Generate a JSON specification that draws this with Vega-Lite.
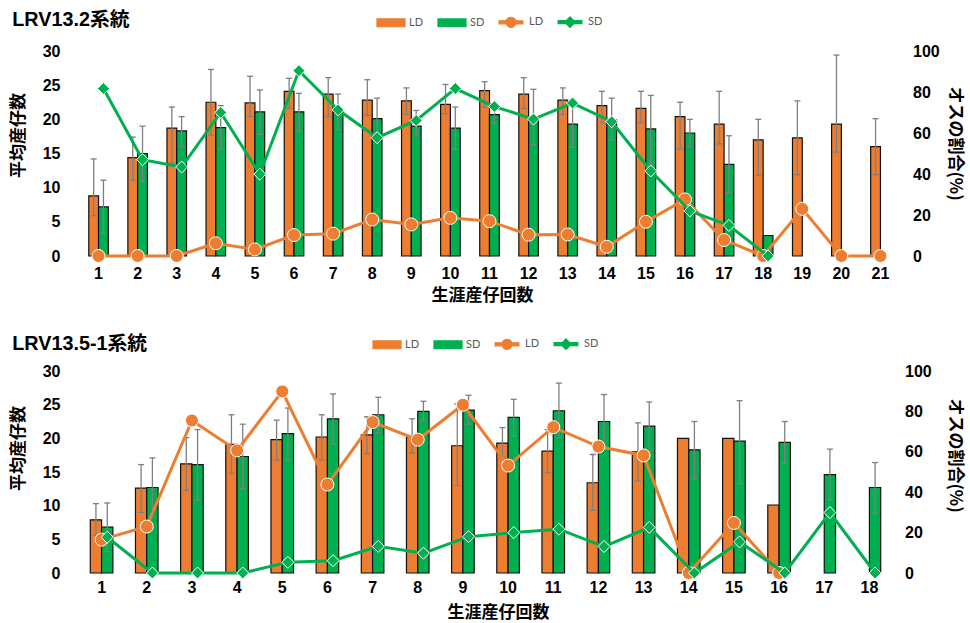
{
  "$schema": "https://vega.github.io/schema/vega-lite/v6.json",
  "background": "white",
  "padding": {"left": 9, "top": 7, "right": 5, "bottom": 4.5},
  "autosize": {"type": "pad"},
  "config": {
    "view": {"stroke": null},
    "axis": {"grid": false, "domain": false, "ticks": false, "tickSize": 0, "labelOverlap": false, "labelFont": "Liberation Sans", "labelFontSize": 16, "labelFontWeight": "bold", "labelColor": "#000", "titleFont": "Noto Sans CJK JP", "titleFontSize": 17, "titleFontWeight": "bold", "titleColor": "#000"},
    "legend": {"layout": {"top": {"anchor": "middle", "direction": "horizontal"}}},
    "title": {"font": "Liberation Sans, 'Noto Sans CJK JP'", "fontSize": 19.8, "fontWeight": "bold", "color": "#000", "anchor": "start", "dx": 3}
  },
  "datasets": {
    "top_bars": [
      {"n": 1, "grp": "LD", "mean": 8.8, "lo": 5.9, "hi": 14.2},
      {"n": 2, "grp": "LD", "mean": 14.4, "lo": 11.1, "hi": 17.4},
      {"n": 3, "grp": "LD", "mean": 18.7, "lo": 13.6, "hi": 21.8},
      {"n": 4, "grp": "LD", "mean": 22.5, "lo": 17.7, "hi": 27.3},
      {"n": 5, "grp": "LD", "mean": 22.4, "lo": 20.4, "hi": 26.3},
      {"n": 6, "grp": "LD", "mean": 24.1, "lo": 21.6, "hi": 26.0},
      {"n": 7, "grp": "LD", "mean": 23.7, "lo": 20.4, "hi": 26.1},
      {"n": 8, "grp": "LD", "mean": 22.8, "lo": 20.6, "hi": 25.8},
      {"n": 9, "grp": "LD", "mean": 22.7, "lo": 20.7, "hi": 24.6},
      {"n": 10, "grp": "LD", "mean": 22.2, "lo": 20.8, "hi": 25.1},
      {"n": 11, "grp": "LD", "mean": 24.2, "lo": 21.8, "hi": 25.5},
      {"n": 12, "grp": "LD", "mean": 23.7, "lo": 21.6, "hi": 26.1},
      {"n": 13, "grp": "LD", "mean": 22.8, "lo": 20.7, "hi": 24.6},
      {"n": 14, "grp": "LD", "mean": 22.0, "lo": 19.5, "hi": 24.1},
      {"n": 15, "grp": "LD", "mean": 21.6, "lo": 19.5, "hi": 24.1},
      {"n": 16, "grp": "LD", "mean": 20.4, "lo": 15.7, "hi": 22.5},
      {"n": 17, "grp": "LD", "mean": 19.3, "lo": 16.4, "hi": 24.1},
      {"n": 18, "grp": "LD", "mean": 17.0, "lo": 11.8, "hi": 20.0},
      {"n": 19, "grp": "LD", "mean": 17.3, "lo": 11.9, "hi": 22.7},
      {"n": 20, "grp": "LD", "mean": 19.3, "lo": 15.2, "hi": 29.4},
      {"n": 21, "grp": "LD", "mean": 16.0, "lo": 11.9, "hi": 20.1},
      {"n": 1, "grp": "SD", "mean": 7.2, "lo": 3.3, "hi": 11.1},
      {"n": 2, "grp": "SD", "mean": 15.0, "lo": 10.9, "hi": 19.0},
      {"n": 3, "grp": "SD", "mean": 18.3, "lo": 16.0, "hi": 20.4},
      {"n": 4, "grp": "SD", "mean": 18.8, "lo": 15.6, "hi": 22.0},
      {"n": 5, "grp": "SD", "mean": 21.1, "lo": 17.8, "hi": 24.3},
      {"n": 6, "grp": "SD", "mean": 21.1, "lo": 18.3, "hi": 23.8},
      {"n": 7, "grp": "SD", "mean": 21.1, "lo": 18.5, "hi": 23.7},
      {"n": 8, "grp": "SD", "mean": 20.1, "lo": 17.0, "hi": 23.1},
      {"n": 9, "grp": "SD", "mean": 19.0, "lo": 17.8, "hi": 21.3},
      {"n": 10, "grp": "SD", "mean": 18.7, "lo": 15.6, "hi": 21.8},
      {"n": 11, "grp": "SD", "mean": 20.7, "lo": 19.4, "hi": 21.8},
      {"n": 12, "grp": "SD", "mean": 20.2, "lo": 16.3, "hi": 24.4},
      {"n": 13, "grp": "SD", "mean": 19.3, "lo": 15.9, "hi": 22.8},
      {"n": 14, "grp": "SD", "mean": 19.9, "lo": 17.0, "hi": 23.1},
      {"n": 15, "grp": "SD", "mean": 18.6, "lo": 13.5, "hi": 23.5},
      {"n": 16, "grp": "SD", "mean": 18.0, "lo": 16.0, "hi": 20.0},
      {"n": 17, "grp": "SD", "mean": 13.4, "lo": 9.3, "hi": 17.6},
      {"n": 18, "grp": "SD", "mean": 3.0, "lo": null, "hi": null}
    ],
    "top_lines": [
      {"n": 1, "grp": "LD線", "pct": 0}, {"n": 2, "grp": "LD線", "pct": 0}, {"n": 3, "grp": "LD線", "pct": 0},
      {"n": 4, "grp": "LD線", "pct": 6.2}, {"n": 5, "grp": "LD線", "pct": 3.2}, {"n": 6, "grp": "LD線", "pct": 10.2},
      {"n": 7, "grp": "LD線", "pct": 10.9}, {"n": 8, "grp": "LD線", "pct": 17.8}, {"n": 9, "grp": "LD線", "pct": 15.4},
      {"n": 10, "grp": "LD線", "pct": 18.6}, {"n": 11, "grp": "LD線", "pct": 17.0}, {"n": 12, "grp": "LD線", "pct": 10.4},
      {"n": 13, "grp": "LD線", "pct": 10.5}, {"n": 14, "grp": "LD線", "pct": 4.5}, {"n": 15, "grp": "LD線", "pct": 16.7},
      {"n": 16, "grp": "LD線", "pct": 27.6}, {"n": 17, "grp": "LD線", "pct": 7.8}, {"n": 18, "grp": "LD線", "pct": 0},
      {"n": 19, "grp": "LD線", "pct": 23.0}, {"n": 20, "grp": "LD線", "pct": 0}, {"n": 21, "grp": "LD線", "pct": 0},
      {"n": 1, "grp": "SD線", "pct": 81.7}, {"n": 2, "grp": "SD線", "pct": 47.0}, {"n": 3, "grp": "SD線", "pct": 43.4},
      {"n": 4, "grp": "SD線", "pct": 70.0}, {"n": 5, "grp": "SD線", "pct": 39.9}, {"n": 6, "grp": "SD線", "pct": 90.4},
      {"n": 7, "grp": "SD線", "pct": 71.3}, {"n": 8, "grp": "SD線", "pct": 57.7}, {"n": 9, "grp": "SD線", "pct": 66.1},
      {"n": 10, "grp": "SD線", "pct": 81.7}, {"n": 11, "grp": "SD線", "pct": 72.9}, {"n": 12, "grp": "SD線", "pct": 66.8},
      {"n": 13, "grp": "SD線", "pct": 74.6}, {"n": 14, "grp": "SD線", "pct": 65.5}, {"n": 15, "grp": "SD線", "pct": 41.5},
      {"n": 16, "grp": "SD線", "pct": 22.0}, {"n": 17, "grp": "SD線", "pct": 14.9}, {"n": 18, "grp": "SD線", "pct": 0}
    ],
    "bot_bars": [
      {"n": 1, "grp": "LD", "mean": 7.9, "lo": 5.6, "hi": 10.3},
      {"n": 2, "grp": "LD", "mean": 12.6, "lo": 9.0, "hi": 16.1},
      {"n": 3, "grp": "LD", "mean": 16.2, "lo": 12.3, "hi": 20.1},
      {"n": 4, "grp": "LD", "mean": 19.1, "lo": 14.8, "hi": 23.5},
      {"n": 5, "grp": "LD", "mean": 19.8, "lo": 16.8, "hi": 22.7},
      {"n": 6, "grp": "LD", "mean": 20.2, "lo": 16.8, "hi": 23.5},
      {"n": 7, "grp": "LD", "mean": 20.5, "lo": 17.7, "hi": 23.2},
      {"n": 8, "grp": "LD", "mean": 20.2, "lo": 17.8, "hi": 22.9},
      {"n": 9, "grp": "LD", "mean": 18.9, "lo": 13.0, "hi": 25.1},
      {"n": 10, "grp": "LD", "mean": 19.3, "lo": 17.2, "hi": 21.6},
      {"n": 11, "grp": "LD", "mean": 18.1, "lo": 14.9, "hi": 21.3},
      {"n": 12, "grp": "LD", "mean": 13.4, "lo": 9.3, "hi": 17.6},
      {"n": 13, "grp": "LD", "mean": 18.0, "lo": 13.7, "hi": 22.3},
      {"n": 14, "grp": "LD", "mean": 20.0, "lo": null, "hi": null},
      {"n": 15, "grp": "LD", "mean": 20.0, "lo": null, "hi": null},
      {"n": 16, "grp": "LD", "mean": 10.1, "lo": null, "hi": null},
      {"n": 1, "grp": "SD", "mean": 6.8, "lo": 3.2, "hi": 10.4},
      {"n": 2, "grp": "SD", "mean": 12.7, "lo": 8.3, "hi": 17.1},
      {"n": 3, "grp": "SD", "mean": 16.1, "lo": 10.8, "hi": 21.3},
      {"n": 4, "grp": "SD", "mean": 17.3, "lo": 12.5, "hi": 22.1},
      {"n": 5, "grp": "SD", "mean": 20.7, "lo": 16.8, "hi": 24.5},
      {"n": 6, "grp": "SD", "mean": 22.9, "lo": 19.2, "hi": 26.6},
      {"n": 7, "grp": "SD", "mean": 23.5, "lo": 20.8, "hi": 26.1},
      {"n": 8, "grp": "SD", "mean": 24.0, "lo": 22.6, "hi": 25.5},
      {"n": 9, "grp": "SD", "mean": 24.2, "lo": 22.1, "hi": 26.4},
      {"n": 10, "grp": "SD", "mean": 23.1, "lo": 20.4, "hi": 25.8},
      {"n": 11, "grp": "SD", "mean": 24.1, "lo": 20.1, "hi": 28.2},
      {"n": 12, "grp": "SD", "mean": 22.5, "lo": 18.4, "hi": 26.5},
      {"n": 13, "grp": "SD", "mean": 21.8, "lo": 18.1, "hi": 25.4},
      {"n": 14, "grp": "SD", "mean": 18.3, "lo": 14.0, "hi": 22.5},
      {"n": 15, "grp": "SD", "mean": 19.6, "lo": 13.3, "hi": 25.6},
      {"n": 16, "grp": "SD", "mean": 19.4, "lo": 16.3, "hi": 22.5},
      {"n": 17, "grp": "SD", "mean": 14.6, "lo": 10.9, "hi": 18.4},
      {"n": 18, "grp": "SD", "mean": 12.7, "lo": 8.9, "hi": 16.4}
    ],
    "bot_lines": [
      {"n": 1, "grp": "LD線", "pct": 16.5}, {"n": 2, "grp": "LD線", "pct": 23.0}, {"n": 3, "grp": "LD線", "pct": 75.5},
      {"n": 4, "grp": "LD線", "pct": 60.7}, {"n": 5, "grp": "LD線", "pct": 89.9}, {"n": 6, "grp": "LD線", "pct": 43.8},
      {"n": 7, "grp": "LD線", "pct": 74.7}, {"n": 8, "grp": "LD線", "pct": 66.0}, {"n": 9, "grp": "LD線", "pct": 83.3},
      {"n": 10, "grp": "LD線", "pct": 53.2}, {"n": 11, "grp": "LD線", "pct": 72.2}, {"n": 12, "grp": "LD線", "pct": 62.6},
      {"n": 13, "grp": "LD線", "pct": 58.2}, {"n": 14, "grp": "LD線", "pct": 0}, {"n": 15, "grp": "LD線", "pct": 24.8},
      {"n": 16, "grp": "LD線", "pct": 0},
      {"n": 1, "grp": "SD線", "pct": 17.7}, {"n": 2, "grp": "SD線", "pct": 0}, {"n": 3, "grp": "SD線", "pct": 0},
      {"n": 4, "grp": "SD線", "pct": 0}, {"n": 5, "grp": "SD線", "pct": 5.3}, {"n": 6, "grp": "SD線", "pct": 6.1},
      {"n": 7, "grp": "SD線", "pct": 13.2}, {"n": 8, "grp": "SD線", "pct": 9.8}, {"n": 9, "grp": "SD線", "pct": 18.0},
      {"n": 10, "grp": "SD線", "pct": 20.0}, {"n": 11, "grp": "SD線", "pct": 21.7}, {"n": 12, "grp": "SD線", "pct": 13.1},
      {"n": 13, "grp": "SD線", "pct": 22.6}, {"n": 14, "grp": "SD線", "pct": 0}, {"n": 15, "grp": "SD線", "pct": 15.4},
      {"n": 16, "grp": "SD線", "pct": 0}, {"n": 17, "grp": "SD線", "pct": 29.9}, {"n": 18, "grp": "SD線", "pct": 0}
    ]
  },
  "spacing": 26,
  "resolve": {"scale": {"color": "independent", "xOffset": "independent"}, "legend": {"color": "independent"}},
  "vconcat": [
    {
      "title": {"text": "LRV13.2系統", "offset": -23},
      "width": 821,
      "height": 205,
      "encoding": {
        "x": {"field": "n", "type": "ordinal", "title": "生涯産仔回数", "scale": {"paddingInner": 0.5, "paddingOuter": 0.25}, "axis": {"labelAngle": 0, "labelPadding": 9, "titlePadding": 6, "titleX": 403}},
        "color": {"field": "grp", "type": "nominal", "scale": {"domain": ["LD", "SD", "LD線", "SD線"], "range": ["#ED7D31", "#00B050", "#ED7D31", "#00B050"]},
          "legend": {"orient": "top", "direction": "horizontal", "title": null, "offset": 21, "padding": 0, "symbolSize": 784, "symbolOpacity": 1, "labelOffset": 3, "columnPadding": 11, "labelFont": "Lato", "labelFontSize": 11, "labelColor": "#595959",
            "labelExpr": "slice(datum.label, 0, 2)",
            "encode": {"symbols": {"update": {
              "shape": {"signal": "datum.value == 'LD' || datum.value == 'SD' ? 'M-1,-0.28H1V0.28H-1Z' : (datum.value == 'LD線' ? 'M-0.85,-0.11H0.85V0.11H-0.85Z M0.36,0A0.36,0.36 0 1,1 -0.36,0A0.36,0.36 0 1,1 0.36,0Z' : 'M-0.85,-0.11H0.85V0.11H-0.85Z M0,-0.38L0.38,0L0,0.38L-0.38,0Z')"},
              "fill": {"signal": "datum.value == 'LD' || datum.value == 'LD線' ? '#ED7D31' : '#00B050'"},
              "stroke": {"signal": "datum.value == 'LD' || datum.value == 'SD' ? '#111' : 'transparent'"},
              "strokeWidth": {"value": 1.2},
              "opacity": {"value": 1}
            }}}
          }}
      },
      "layer": [
        {
          "data": {"name": "top_bars"},
          "encoding": {"xOffset": {"field": "grp", "type": "nominal", "scale": {"domain": ["LD", "SD"]}}},
          "layer": [
            {"mark": {"type": "bar", "stroke": "#111", "strokeWidth": 1.2},
             "encoding": {"y": {"field": "mean", "type": "quantitative", "title": "平均産仔数", "scale": {"domain": [0, 30]}, "axis": {"values": [0, 5, 10, 15, 20, 25, 30], "labelOverlap": false, "labelPadding": 19, "titlePadding": 15, "titleY": 84}}}},
            {"transform": [{"filter": "isValid(datum.hi)"}],
             "mark": {"type": "rule", "strokeWidth": 1.3},
             "encoding": {"y": {"field": "lo", "type": "quantitative", "title": "平均産仔数", "axis": {"values": [0, 5, 10, 15, 20, 25, 30], "labelOverlap": false, "labelPadding": 19, "titlePadding": 15, "titleY": 84}}, "y2": {"field": "hi"}, "color": {"value": "#7f7f7f"}}},
            {"transform": [{"filter": "isValid(datum.hi)"}],
             "mark": {"type": "tick", "orient": "horizontal", "size": 6, "thickness": 1.3, "opacity": 1},
             "encoding": {"y": {"field": "hi", "type": "quantitative", "title": "平均産仔数", "axis": {"values": [0, 5, 10, 15, 20, 25, 30], "labelOverlap": false, "labelPadding": 19, "titlePadding": 15, "titleY": 84}}, "color": {"value": "#7f7f7f"}}},
            {"transform": [{"filter": "isValid(datum.lo)"}],
             "mark": {"type": "tick", "orient": "horizontal", "size": 6, "thickness": 1.3, "opacity": 1},
             "encoding": {"y": {"field": "lo", "type": "quantitative", "title": "平均産仔数", "axis": {"values": [0, 5, 10, 15, 20, 25, 30], "labelOverlap": false, "labelPadding": 19, "titlePadding": 15, "titleY": 84}}, "color": {"value": "#7f7f7f"}}}
          ]
        },
        {
          "data": {"name": "top_lines"},
          "encoding": {"y": {"field": "pct", "type": "quantitative", "title": "オスの割合(%)", "scale": {"domain": [0, 100]}, "axis": {"orient": "right", "values": [0, 20, 40, 60, 80, 100], "labelPadding": 12.5, "titlePadding": 6, "titleY": 92}}},
          "layer": [
            {"transform": [{"filter": "datum.grp == 'LD線'"}], "mark": {"type": "line", "strokeWidth": 3}},
            {"transform": [{"filter": "datum.grp == 'LD線'"}], "mark": {"type": "point", "shape": "circle", "filled": true, "size": 169, "opacity": 1, "stroke": "#ffffff", "strokeWidth": 1}},
            {"transform": [{"filter": "datum.grp == 'SD線'"}], "mark": {"type": "line", "strokeWidth": 3}, "encoding": {"xOffset": {"datum": "SD", "type": "nominal"}}},
            {"transform": [{"filter": "datum.grp == 'SD線'"}], "mark": {"type": "point", "shape": "diamond", "filled": true, "size": 144, "opacity": 1, "stroke": "#ffffff", "strokeWidth": 1}, "encoding": {"xOffset": {"datum": "SD", "type": "nominal"}}}
          ]
        }
      ],
      "resolve": {"scale": {"y": "independent"}}
    },
    {
      "title": {"text": "LRV13.5-1系統", "offset": -25},
      "width": 813,
      "height": 202,
      "encoding": {
        "x": {"field": "n", "type": "ordinal", "title": "生涯産仔回数", "scale": {"paddingInner": 0.5, "paddingOuter": 0.25}, "axis": {"labelAngle": 0, "labelPadding": 6.5, "titlePadding": 9, "titleX": 419}},
        "color": {"field": "grp", "type": "nominal", "scale": {"domain": ["LD", "SD", "LD線", "SD線"], "range": ["#ED7D31", "#00B050", "#ED7D31", "#00B050"]},
          "legend": {"orient": "top", "direction": "horizontal", "title": null, "offset": 18.7, "padding": 0, "symbolSize": 784, "symbolOpacity": 1, "labelOffset": 3, "columnPadding": 11, "labelFont": "Lato", "labelFontSize": 11, "labelColor": "#595959",
            "labelExpr": "slice(datum.label, 0, 2)",
            "encode": {"symbols": {"update": {
              "shape": {"signal": "datum.value == 'LD' || datum.value == 'SD' ? 'M-1,-0.28H1V0.28H-1Z' : (datum.value == 'LD線' ? 'M-0.85,-0.11H0.85V0.11H-0.85Z M0.36,0A0.36,0.36 0 1,1 -0.36,0A0.36,0.36 0 1,1 0.36,0Z' : 'M-0.85,-0.11H0.85V0.11H-0.85Z M0,-0.38L0.38,0L0,0.38L-0.38,0Z')"},
              "fill": {"signal": "datum.value == 'LD' || datum.value == 'LD線' ? '#ED7D31' : '#00B050'"},
              "stroke": {"signal": "datum.value == 'LD' || datum.value == 'SD' ? '#111' : 'transparent'"},
              "strokeWidth": {"value": 1.2},
              "opacity": {"value": 1}
            }}}
          }}
      },
      "layer": [
        {
          "data": {"name": "bot_bars"},
          "encoding": {"xOffset": {"field": "grp", "type": "nominal", "scale": {"domain": ["LD", "SD"]}}},
          "layer": [
            {"mark": {"type": "bar", "stroke": "#111", "strokeWidth": 1.2},
             "encoding": {"y": {"field": "mean", "type": "quantitative", "title": "平均産仔数", "scale": {"domain": [0, 30]}, "axis": {"values": [0, 5, 10, 15, 20, 25, 30], "labelOverlap": false, "labelPadding": 19, "titlePadding": 15, "titleY": 77}}}},
            {"transform": [{"filter": "isValid(datum.hi)"}],
             "mark": {"type": "rule", "strokeWidth": 1.3},
             "encoding": {"y": {"field": "lo", "type": "quantitative", "title": "平均産仔数", "axis": {"values": [0, 5, 10, 15, 20, 25, 30], "labelOverlap": false, "labelPadding": 19, "titlePadding": 15, "titleY": 77}}, "y2": {"field": "hi"}, "color": {"value": "#7f7f7f"}}},
            {"transform": [{"filter": "isValid(datum.hi)"}],
             "mark": {"type": "tick", "orient": "horizontal", "size": 6, "thickness": 1.3, "opacity": 1},
             "encoding": {"y": {"field": "hi", "type": "quantitative", "title": "平均産仔数", "axis": {"values": [0, 5, 10, 15, 20, 25, 30], "labelOverlap": false, "labelPadding": 19, "titlePadding": 15, "titleY": 77}}, "color": {"value": "#7f7f7f"}}},
            {"transform": [{"filter": "isValid(datum.lo)"}],
             "mark": {"type": "tick", "orient": "horizontal", "size": 6, "thickness": 1.3, "opacity": 1},
             "encoding": {"y": {"field": "lo", "type": "quantitative", "title": "平均産仔数", "axis": {"values": [0, 5, 10, 15, 20, 25, 30], "labelOverlap": false, "labelPadding": 19, "titlePadding": 15, "titleY": 77}}, "color": {"value": "#7f7f7f"}}}
          ]
        },
        {
          "data": {"name": "bot_lines"},
          "encoding": {"y": {"field": "pct", "type": "quantitative", "title": "オスの割合(%)", "scale": {"domain": [0, 100]}, "axis": {"orient": "right", "values": [0, 20, 40, 60, 80, 100], "labelPadding": 12.5, "titlePadding": 14, "titleY": 84}}},
          "layer": [
            {"transform": [{"filter": "datum.grp == 'LD線'"}], "mark": {"type": "line", "strokeWidth": 3}},
            {"transform": [{"filter": "datum.grp == 'LD線'"}], "mark": {"type": "point", "shape": "circle", "filled": true, "size": 169, "opacity": 1, "stroke": "#ffffff", "strokeWidth": 1}},
            {"transform": [{"filter": "datum.grp == 'SD線'"}], "mark": {"type": "line", "strokeWidth": 3}, "encoding": {"xOffset": {"datum": "SD", "type": "nominal"}}},
            {"transform": [{"filter": "datum.grp == 'SD線'"}], "mark": {"type": "point", "shape": "diamond", "filled": true, "size": 144, "opacity": 1, "stroke": "#ffffff", "strokeWidth": 1}, "encoding": {"xOffset": {"datum": "SD", "type": "nominal"}}}
          ]
        }
      ],
      "resolve": {"scale": {"y": "independent"}}
    }
  ]
}
